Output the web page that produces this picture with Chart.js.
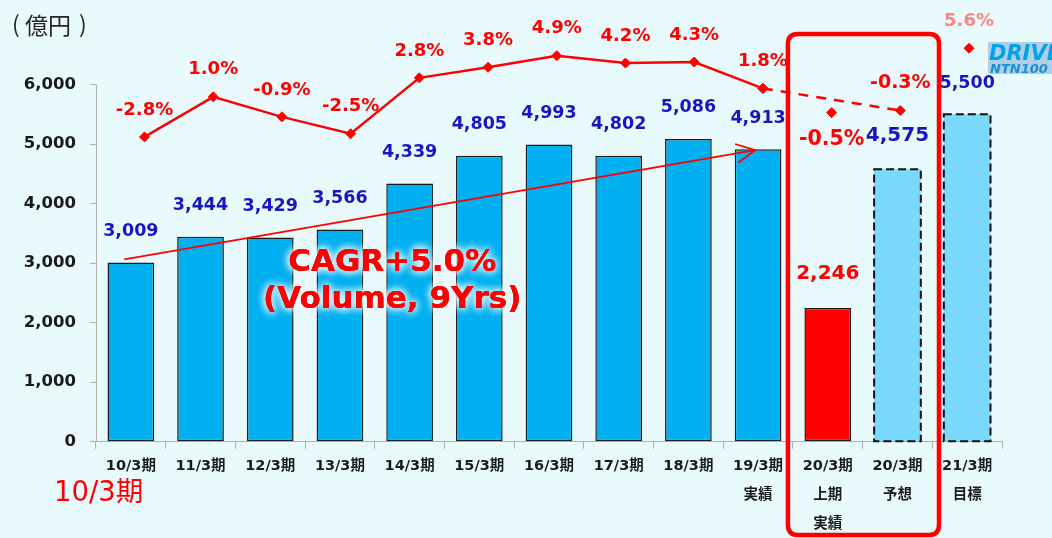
<!DOCTYPE html>
<html>
<head>
<meta charset="utf-8">
<script src="https://cdn.jsdelivr.net/npm/chart.js@4/dist/chart.umd.min.js"></script>
<style>
html,body{margin:0;padding:0;background:#E9FAFC;}
canvas{display:block;}
</style>
</head>
<body>
<canvas id="c" width="1052" height="538"></canvas>
<script>
// ---- data ----
const categories = [
  ["10/3期"],["11/3期"],["12/3期"],["13/3期"],["14/3期"],["15/3期"],["16/3期"],
  ["17/3期"],["18/3期"],["19/3期","実績"],["20/3期","上期","実績"],["20/3期","予想"],["21/3期","目標"]
];
const salesValues  = [3009,3444,3429,3566,4339,4805,4993,4802,5086,4913,2246,4575,5500];
const growthValues = [-2.8,1.0,-0.9,-2.5,2.8,3.8,4.9,4.2,4.3,1.8,-0.5,-0.3,5.6];
const yTickValues  = [0,1000,2000,3000,4000,5000,6000];
const actualIdx    = [0,1,2,3,4,5,6,7,8,9];
const forecastIdx  = [9,11];
const markerIdx    = [10,12];

// ---- styles ----
const FONT = "'DejaVu Sans','Noto Sans CJK JP',sans-serif";
const CJK  = "'Noto Sans CJK JP','DejaVu Sans',sans-serif";
const BLUE = '#00B0F0', LIGHT = '#7AD9FC', RED = '#FF0000';
const barColors   = salesValues.map((v,i)=> i===10 ? RED : (i>=11 ? LIGHT : BLUE));
const barBorders  = salesValues.map((v,i)=> i>=11 ? 'rgba(0,0,0,0)' : '#1c1c1c');
const barBorderW  = salesValues.map((v,i)=> i>=11 ? 0 : 1.5);
const dashedBars  = [11,12];
const barLabelSize = salesValues.map((v,i)=> (i===10||i===11) ? 20 : 17.5);
const barLabelGap  = salesValues.map((v,i)=> (i===10||i===11) ? 34 : 31);
const pctLabelSize = growthValues.map((v,i)=> i===10 ? 20.5 : (i===11 ? 19 : 18));

const pts = idx => idx.map(i => ({x:i, y:growthValues[i]}));

const decor = {
  id:'decor',
  beforeDraw(chart){
    const c = chart.ctx;
    c.save(); c.fillStyle = '#E9FAFC'; c.fillRect(0,0,chart.width,chart.height); c.restore();
  },
  afterDatasetsDraw(chart){
    const c = chart.ctx;
    const xs = chart.scales.x, ys = chart.scales.y, x2 = chart.scales.x2, y2 = chart.scales.y2;
    const meta = chart.getDatasetMeta(0);
    // dashed outlines
    dashedBars.forEach(i=>{
      const el = meta.data[i];
      c.save();
      c.setLineDash([8,4]); c.lineWidth = 2; c.strokeStyle = '#111';
      c.strokeRect(el.x - el.width/2, el.y, el.width, el.base - el.y);
      c.restore();
    });
    // CAGR arrow
    const sx = x2.getPixelForValue(-0.294), sy = ys.getPixelForValue(3062);
    const ex = x2.getPixelForValue(8.887), ey = ys.getPixelForValue(4897);
    c.save();
    c.strokeStyle = RED; c.lineWidth = 1.8;
    c.beginPath(); c.moveTo(sx,sy); c.lineTo(ex,ey); c.stroke();
    const ang = Math.atan2(ey-sy, ex-sx), L = 21, a = 27*Math.PI/180;
    c.beginPath();
    c.moveTo(ex - L*Math.cos(ang-a), ey - L*Math.sin(ang-a));
    c.lineTo(ex,ey);
    c.lineTo(ex - L*Math.cos(ang+a), ey - L*Math.sin(ang+a));
    c.stroke();
    c.restore();
    // bar value labels
    c.save();
    c.textAlign = 'center'; c.textBaseline = 'middle';
    meta.data.forEach((el,i)=>{
      c.font = `bold ${barLabelSize[i]}px ${FONT}`;
      c.fillStyle = i===10 ? RED : '#1616C4';
      c.fillText(salesValues[i].toLocaleString('en-US'), el.x, el.y - barLabelGap[i]);
    });
    // percentage labels
    growthValues.forEach((v,i)=>{
      const px = x2.getPixelForValue(i), py = y2.getPixelForValue(v);
      c.font = `bold ${pctLabelSize[i]}px ${FONT}`;
      c.fillStyle = i===12 ? '#FF8585' : RED;
      c.fillText(v.toFixed(1)+'%', px, i===10 ? py + 27 : py - 27);
    });
    c.restore();
    // CAGR text with glow
    c.save();
    c.textAlign = 'center'; c.textBaseline = 'middle';
    c.font = `bold 31px ${FONT}`;
    const tx = xs.getPixelForValue(3.75);
    const l1 = ys.getPixelForValue(3000), l2 = ys.getPixelForValue(2379);
    c.shadowColor = 'rgba(235,252,255,0.95)'; c.shadowBlur = 9;
    c.fillStyle = RED;
    for (let k=0;k<3;k++){ c.fillText('CAGR+5.0%', tx, l1); c.fillText('(Volume, 9Yrs)', tx, l2); }
    c.shadowBlur = 0;
    c.fillText('CAGR+5.0%', tx, l1); c.fillText('(Volume, 9Yrs)', tx, l2);
    c.restore();
  },
  afterDraw(chart){
    const c = chart.ctx;
    const xs = chart.scales.x, ys = chart.scales.y;
    // y axis line from 0 to 6000
    c.save();
    c.strokeStyle = '#AFAFAF'; c.lineWidth = 1;
    c.beginPath();
    c.moveTo(xs.left+0.5, ys.getPixelForValue(0)); c.lineTo(xs.left+0.5, ys.getPixelForValue(6000));
    c.stroke();
    c.restore();
    // red rounded box around 20/3 columns
    const bl = (xs.getPixelForValue(9)+xs.getPixelForValue(10))/2 - 5;
    const br = (xs.getPixelForValue(11)+xs.getPixelForValue(12))/2 + 6.7;
    const bt = 34, bb = 535, r = 10;
    c.save();
    c.strokeStyle = RED; c.lineWidth = 4.5;
    c.beginPath();
    c.moveTo(bl+r, bt); c.lineTo(br-r, bt); c.quadraticCurveTo(br, bt, br, bt+r);
    c.lineTo(br, bb-r); c.quadraticCurveTo(br, bb, br-r, bb);
    c.lineTo(bl+r, bb); c.quadraticCurveTo(bl, bb, bl, bb-r);
    c.lineTo(bl, bt+r); c.quadraticCurveTo(bl, bt, bl+r, bt);
    c.closePath(); c.stroke();
    c.restore();
    // unit label
    c.save();
    c.fillStyle = '#262626'; c.textBaseline = 'middle'; c.textAlign = 'left';
    c.font = `23px ${CJK}`;
    c.fillText('(', 12, 24);
    c.fillText('億円', 25, 25);
    c.fillText(')', 79, 24);
    // stray red label
    c.fillStyle = RED; c.font = `27.5px ${FONT}`;
    c.fillText('10/3期', 54, 494);
    // DRIVE NTN100 logo
    c.fillStyle = '#AECFE6'; c.fillRect(988, 42, 64, 32);
    c.fillStyle = '#00A2EA'; c.font = `italic bold 21px ${FONT}`; c.textBaseline = 'alphabetic';
    c.fillText('DRIVE', 989, 60);
    c.fillStyle = '#1B8FD6'; c.font = `italic bold 13px ${FONT}`;
    c.fillText('NTN100', 990, 73);
    c.restore();
  }
};

new Chart(document.getElementById('c'), {
  type:'bar',
  data:{
    labels: categories,
    datasets:[
      { type:'bar', data: salesValues, xAxisID:'x', yAxisID:'y', order:2, grouped:false,
        backgroundColor: barColors, borderColor: barBorders, borderWidth: barBorderW, borderSkipped:false,
        barPercentage:0.67, categoryPercentage:1.0 },
      { type:'line', data: pts(actualIdx), xAxisID:'x2', yAxisID:'y2', order:1,
        borderColor: RED, borderWidth:2.5, pointStyle:'rectRot', pointRadius:5,
        pointBackgroundColor: RED, pointBorderColor: RED, pointBorderWidth:1, tension:0, fill:false },
      { type:'line', data: pts(forecastIdx), xAxisID:'x2', yAxisID:'y2', order:1,
        borderColor: RED, borderWidth:2.5, borderDash:[10,8], pointStyle:'rectRot', pointRadius:5,
        pointBackgroundColor: RED, pointBorderColor: RED, pointBorderWidth:1, tension:0, fill:false },
      { type:'line', data: pts(markerIdx), xAxisID:'x2', yAxisID:'y2', order:1, showLine:false,
        borderColor: RED, pointStyle:'rectRot', pointRadius:5,
        pointBackgroundColor: RED, pointBorderColor: RED, pointBorderWidth:1 }
    ]
  },
  options:{
    responsive:false, animation:false, devicePixelRatio:1,
    layout:{ padding:{ left:0, right:50, top:25, bottom:0 } },
    plugins:{ legend:{display:false}, tooltip:{enabled:false} },
    scales:{
      x:{
        type:'category', position:'bottom', offset:true,
        afterFit: s => { s.height = 96.3; },
        grid:{ display:true, drawOnChartArea:false, drawTicks:true, tickLength:7, color:'#AFAFAF', offset:true },
        border:{ display:true, color:'#AFAFAF', width:1 },
        ticks:{ color:'#1a1a1a', padding:3, maxRotation:0, autoSkip:false,
          font:{ family:FONT, size:14.5, weight:'bold', lineHeight:'29px' } }
      },
      x2:{ type:'linear', display:false, offset:false, bounds:'data', grace:0,
           grid:{offset:false}, min:-0.706, max:12.48 },
      y:{
        position:'left', min:0, max:7000,
        afterFit: s => { s.width = 96; },
        afterBuildTicks: s => { s.ticks = yTickValues.map(v => ({value:v})); },
        grid:{ display:true, drawOnChartArea:false, drawTicks:true, tickLength:6, color:'#AFAFAF' },
        border:{ display:false },
        ticks:{ color:'#1a1a1a', padding:14, callback: v => v.toLocaleString('en-US'),
          font:{ family:FONT, size:16.5, weight:'bold' } }
      },
      y2:{ position:'right', display:false, min:-31.70, max:7.81 }
    }
  },
  plugins:[decor]
});
</script>
</body>
</html>
